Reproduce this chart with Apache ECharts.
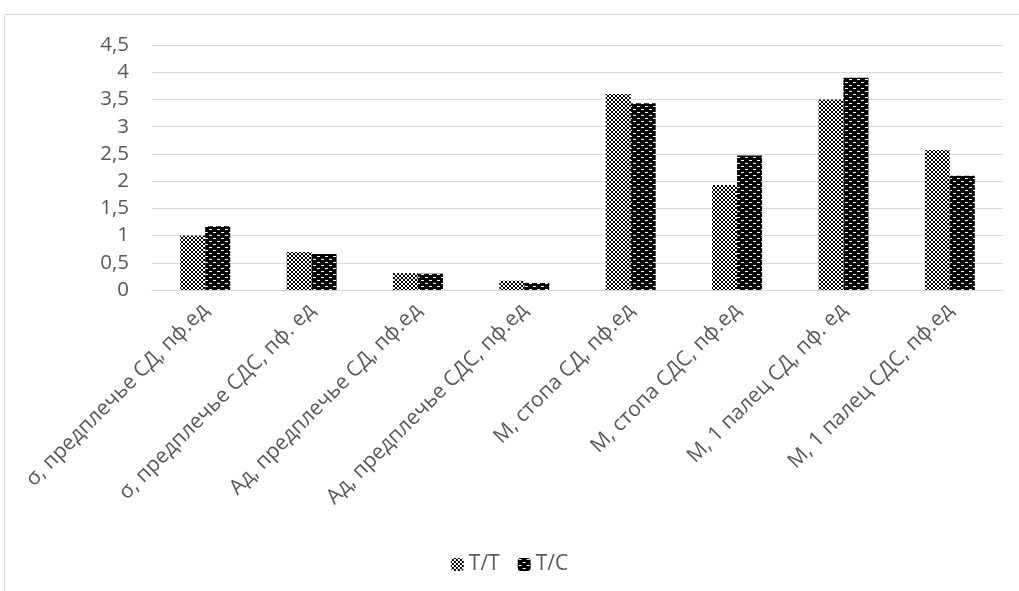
<!DOCTYPE html>
<html>
<head>
<meta charset="utf-8">
<script src="https://cdn.jsdelivr.net/npm/echarts@6/dist/echarts.min.js"></script>
<style>html,body{margin:0;padding:0;background:#fff}#c{width:1019px;height:591px}</style>
</head>
<body>
<div id="c"></div>
<script>
const categories = [
  'σ, предплечье СД, пф.ед',
  'σ, предплечье СДС, пф. ед',
  'Ад, предплечье СД, пф.ед',
  'Ад, предплечье СДС, пф.ед',
  'М, стопа СД, пф.ед',
  'М, стопа СДС, пф.ед',
  'М, 1 палец СД, пф. ед',
  'М, 1 палец СДС, пф.ед'
];
const seriesNames = ['T/T', 'T/C'];
const valuesTT = [1.0, 0.70, 0.31, 0.17, 3.6, 1.93, 3.5, 2.57];
const valuesTC = [1.17, 0.66, 0.30, 0.13, 3.43, 2.47, 3.9, 2.1];
const yTicks = [0, 0.5, 1, 1.5, 2, 2.5, 3, 3.5, 4, 4.5];

function makeTile(rows, fg, bg) {
  const h = rows.length, w = rows[0].length;
  const c = document.createElement('canvas');
  c.width = w; c.height = h;
  const ctx = c.getContext('2d');
  ctx.fillStyle = bg; ctx.fillRect(0, 0, w, h);
  ctx.fillStyle = fg;
  for (let y = 0; y < h; y++) for (let x = 0; x < w; x++) if (rows[y][x] === '#') ctx.fillRect(x, y, 1, 1);
  return c;
}
const tileTT = makeTile([
  '#..#',
  '.##.',
  '.##.',
  '#..#'
], '#000', '#fff');
const tileTC = makeTile([
  '........',
  '.###....',
  '........',
  '........',
  '.....###',
  '........'
], '#fff', '#000');

const chart = echarts.init(document.getElementById('c'), null, {renderer: 'canvas'});
const font = '"Open Sans", "Noto Sans", sans-serif';
chart.setOption({
  animation: false,
  backgroundColor: '#fff',
  graphic: [{
    type: 'rect', shape: {x: 4.5, y: 14.5, width: 1100, height: 700},
    style: {fill: 'none', stroke: '#d9d9d9', lineWidth: 1}, silent: true, z: -1
  }],
  grid: {left: 152, right: 16, top: 45, bottom: 301, containLabel: false},
  legend: {
    top: 549, left: 'center',
    itemWidth: 13, itemHeight: 13, itemGap: 18,
    textStyle: {color: '#595959', fontSize: 21, fontFamily: font},
    data: seriesNames
  },
  xAxis: {
    type: 'category', data: categories,
    axisLine: {lineStyle: {color: '#d9d9d9', width: 1}},
    axisTick: {show: false},
    axisLabel: {rotate: 45, interval: 0, color: '#595959', fontSize: 21, fontFamily: font, margin: 17}
  },
  yAxis: {
    type: 'value', min: 0, max: 4.5, interval: 0.5,
    axisLine: {show: false}, axisTick: {show: false},
    splitLine: {lineStyle: {color: '#d9d9d9', width: 1}},
    axisLabel: {
      color: '#595959', fontSize: 20.5, fontFamily: font, margin: 23,
      formatter: v => yTicks.includes(v) ? String(v).replace('.', ',') : ''
    }
  },
  series: [
    {name: seriesNames[0], type: 'bar', data: valuesTT, barWidth: 25, barGap: '0%',
     itemStyle: {color: {image: tileTT, repeat: 'repeat'}}},
    {name: seriesNames[1], type: 'bar', data: valuesTC, barWidth: 25, barGap: '0%',
     itemStyle: {color: {image: tileTC, repeat: 'repeat'}}}
  ]
});
</script>
</body>
</html>
